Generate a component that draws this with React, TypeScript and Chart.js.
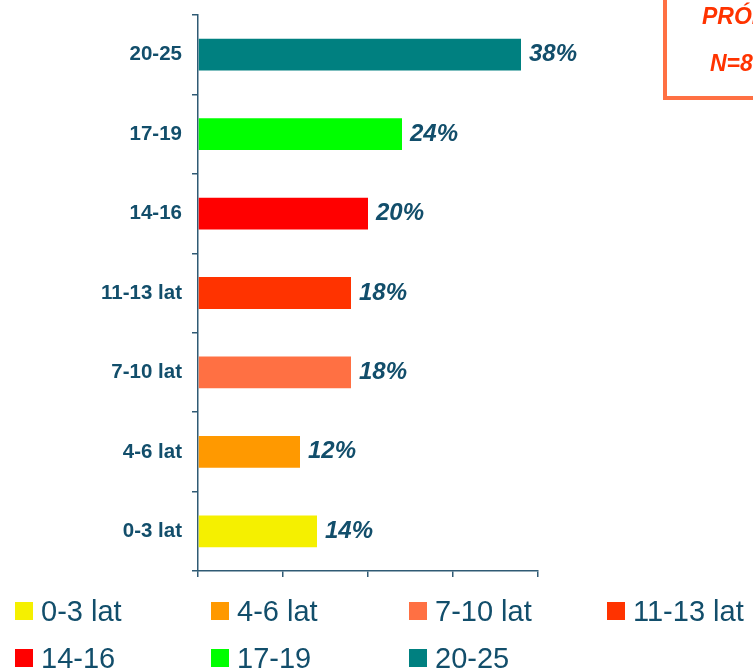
import React, { useEffect, useRef } from "react";
import { Chart, registerables } from "chart.js";

Chart.register(...registerables);

const categories = ["20-25", "17-19", "14-16", "11-13 lat", "7-10 lat", "4-6 lat", "0-3 lat"];
const values = [38, 24, 20, 18, 18, 12, 14];
const barColors = ["#008080", "#00ff00", "#ff0000", "#ff3300", "#ff7043", "#ff9900", "#f5f000"];
const legendLabels = ["0-3 lat", "4-6 lat", "7-10 lat", "11-13 lat", "14-16", "17-19", "20-25"];
const legendColors = ["#f5f000", "#ff9900", "#ff7043", "#ff3300", "#ff0000", "#00ff00", "#008080"];
const boxLines = ["PRÓBA", "N=800"];

const FONT = "'Liberation Sans', Arial, sans-serif";
const TEXT = "#124e6b";
const AXIS = "#2f5a74";

const valueLabels = {
  id: "valueLabels",
  afterDatasetsDraw(chart: any) {
    const ctx = chart.ctx;
    const meta = chart.getDatasetMeta(0);
    ctx.save();
    ctx.font = `italic bold 24px ${FONT}`;
    ctx.fillStyle = TEXT;
    ctx.textAlign = "left";
    ctx.textBaseline = "middle";
    meta.data.forEach((el: any, i: number) => {
      ctx.fillText(values[i] + "%", el.x + 8, el.y);
    });
    ctx.restore();
  },
};

export default function App() {
  const ref = useRef<HTMLCanvasElement>(null);
  useEffect(() => {
    if (!ref.current) return;
    const chart = new Chart(ref.current, {
      type: "bar",
      data: {
        labels: categories,
        datasets: [
          {
            data: values,
            backgroundColor: barColors,
            barPercentage: 0.4,
            categoryPercentage: 1,
          },
        ],
      },
      options: {
        indexAxis: "y",
        animation: false,
        responsive: true,
        maintainAspectRatio: false,
        layout: { padding: { left: 0, top: 15, right: 215, bottom: 90 } },
        plugins: { legend: { display: false }, tooltip: { enabled: false } },
        scales: {
          x: {
            min: 0,
            max: 40,
            ticks: { display: false, stepSize: 10 },
            grid: { drawOnChartArea: false, drawTicks: true, tickLength: 6, color: AXIS, lineWidth: 1.5 },
            border: { display: true, color: AXIS, width: 1.5 },
            afterFit: (s: any) => {
              s.height = 10;
              s.paddingLeft = 0;
              s.paddingRight = 0;
            },
          },
          y: {
            ticks: {
              color: TEXT,
              font: { family: FONT, size: 20.5, weight: "bold" },
              padding: 10,
            },
            grid: { drawOnChartArea: false, drawTicks: true, tickLength: 6, color: AXIS, lineWidth: 1.5, offset: true },
            border: { display: true, color: AXIS, width: 1.5 },
            afterFit: (s: any) => {
              s.width = 198;
              s.paddingTop = 0;
              s.paddingBottom = 0;
            },
          },
        },
      },
      plugins: [valueLabels],
    });
    return () => chart.destroy();
  }, []);

  const cols = [15, 211, 409, 607];
  return (
    <div
      style={{
        position: "fixed",
        left: 0,
        top: 0,
        width: 753,
        height: 671,
        overflow: "hidden",
        background: "#fff",
        fontFamily: FONT,
      }}
    >
      <div style={{ position: "absolute", left: 0, top: 0, width: 753, height: 671 }}>
        <canvas ref={ref} />
      </div>
      <div
        style={{
          position: "absolute",
          left: 663,
          top: -30,
          width: 161,
          height: 130,
          border: "4px solid #ff7043",
          boxSizing: "border-box",
        }}
      />
      {boxLines.map((t, i) => (
        <div
          key={t}
          style={{
            position: "absolute",
            left: i === 0 ? 702 : 710,
            top: (i === 0 ? 24 : 71) - 19.5,
            fontSize: 23,
            lineHeight: "23px",
            fontWeight: "bold",
            fontStyle: "italic",
            color: "#ff3300",
            whiteSpace: "nowrap",
          }}
        >
          {t}
        </div>
      ))}
      {legendLabels.map((t, i) => {
        const row = Math.floor(i / 4);
        const col = i % 4;
        const baseline = row === 0 ? 621 : 668;
        return (
          <React.Fragment key={t}>
            <div
              style={{
                position: "absolute",
                left: cols[col],
                top: baseline - 19,
                width: 18,
                height: 18,
                background: legendColors[i],
              }}
            />
            <div
              style={{
                position: "absolute",
                left: cols[col] + 26,
                top: baseline - 24.5,
                fontSize: 29,
                lineHeight: "29px",
                color: TEXT,
                whiteSpace: "nowrap",
              }}
            >
              {t}
            </div>
          </React.Fragment>
        );
      })}
    </div>
  );
}
